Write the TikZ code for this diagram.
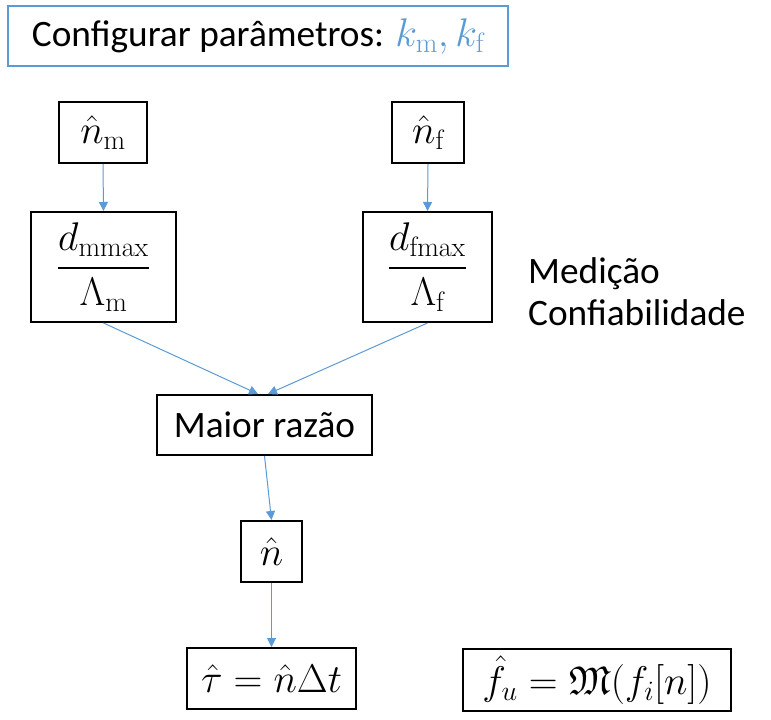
\RequirePackage{fix-cm}
\documentclass[tikz,border=0pt]{standalone}
\usepackage{amsmath,amssymb}
\usepackage{fontspec}
\DeclareFontFamily{U}{euf}{}
\DeclareFontShape{U}{euf}{m}{n}{<-6>eufm5<6-8>eufm7<8->eufm10}{}
\newfontfamily\carlito{Carlito}
\usetikzlibrary{arrows.meta}
\definecolor{myblue}{HTML}{5B9BD5}
\tikzset{
  x=1pt, y=-1pt,
  txt/.style={font=\carlito\fontsize{37.3}{44}\selectfont},
  mbox/.style={draw=black, line width=2pt, inner sep=0pt, font=\fontsize{40}{48}\selectfont},
  conn/.style={draw=myblue, line width=1pt, -{Triangle[length=9pt,width=9pt]}},
}
\begin{document}
\begin{tikzpicture}
\useasboundingbox (0,0) rectangle (771,720);
\node[draw=myblue, line width=2pt, inner sep=0pt, minimum width=500pt, minimum height=60pt, txt] (top) at (258,36)
  {Configurar parâmetros: {\color{myblue}\fontsize{40}{48}\selectfont$k_{\mathrm{m}}, k_{\mathrm{f}}$}};
\node[mbox, minimum width=88pt, minimum height=61pt] (nm) at (103,132.5) {$\hat{n}_{\mathrm{m}}$};
\node[mbox, minimum width=72pt, minimum height=61pt] (nf) at (428,132.5) {$\hat{n}_{\mathrm{f}}$};
\node[mbox, minimum width=145pt, minimum height=110pt] (dm) at (103.5,267) {$\dfrac{d_{\mathrm{mmax}}}{\Lambda_{\mathrm{m}}}$};
\node[mbox, minimum width=129pt, minimum height=110pt] (df) at (427.5,267) {$\dfrac{d_{\mathrm{fmax}}}{\Lambda_{\mathrm{f}}}$};
\node[mbox, txt, minimum width=215pt, minimum height=60pt] (maior) at (264.5,425) {Maior razão};
\node[mbox, minimum width=61pt, minimum height=61pt] (nhat) at (271.5,551.5) {$\hat{n}$};
\node[mbox, minimum width=169pt, minimum height=61pt] (tau) at (271.5,678.5) {$\hat{\tau} = \hat{n}\Delta t$};
\node[mbox, minimum width=268pt, minimum height=62pt] (fu) at (597,680) {$\hat{f}_u = \mathfrak{M}(f_i[n])$};
\node[txt, anchor=base west, inner sep=0pt] (med1) at (528,283) {Medição};
\node[txt, anchor=base west, inner sep=0pt] (med2) at (528,325) {Confiabilidade};
\coordinate (inL) at ([xshift=-6.5pt]maior.north);
\coordinate (inR) at ([xshift=3.5pt]maior.north);
\draw[conn] (nm.south) -- (dm.north);
\draw[conn] (nf.south) -- (df.north);
\draw[conn] (dm.south) -- (inL);
\draw[conn] (df.south) -- (inR);
\draw[conn] (maior.south) -- (nhat.north);
\draw[conn] (nhat.south) -- (tau.north);
\end{tikzpicture}
\end{document}
